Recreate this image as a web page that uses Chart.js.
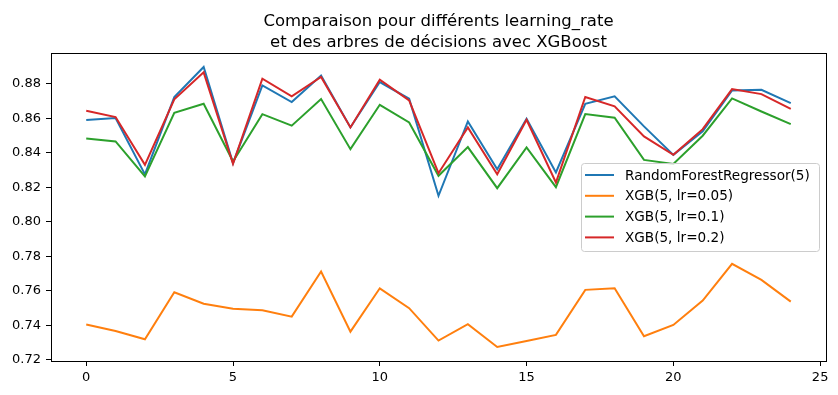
<!DOCTYPE html>
<html>
<head>
<meta charset="utf-8">
<script src="https://cdn.jsdelivr.net/npm/chart.js@4/dist/chart.umd.min.js"></script>
<style>
  body { margin: 0; background: #fff; }
  #wrap { width: 838px; height: 395px; }
</style>
</head>
<body>
<div id="wrap"><canvas id="chart" width="838" height="395"></canvas></div>
<script>
// Data
var steps = [0, 1, 2, 3, 4, 5, 6, 7, 8, 9, 10, 11, 12, 13, 14, 15, 16, 17, 18, 19, 20, 21, 22, 23, 24];
var randomForest = [0.859, 0.8601, 0.8275, 0.8723, 0.8897, 0.834, 0.879, 0.8694, 0.8848, 0.8547, 0.881, 0.8713, 0.8151, 0.8582, 0.8305, 0.8597, 0.8286, 0.8684, 0.8727, 0.8553, 0.8388, 0.8524, 0.8761, 0.8765, 0.8688];
var xgb005 = [0.7405, 0.7368, 0.732, 0.7592, 0.7526, 0.7496, 0.7488, 0.7451, 0.7712, 0.7364, 0.7615, 0.75, 0.7312, 0.7407, 0.7275, 0.731, 0.7345, 0.7606, 0.7615, 0.7337, 0.7403, 0.7544, 0.7757, 0.7664, 0.7538];
var xgb01 = [0.8483, 0.8466, 0.8263, 0.8632, 0.8684, 0.835, 0.8624, 0.8557, 0.8711, 0.8421, 0.8678, 0.8576, 0.8267, 0.8433, 0.8195, 0.8431, 0.8201, 0.8624, 0.8603, 0.8359, 0.8335, 0.8499, 0.8715, 0.8639, 0.8566];
var xgb02 = [0.8643, 0.8607, 0.833, 0.871, 0.8866, 0.8336, 0.8829, 0.8727, 0.8839, 0.8547, 0.8823, 0.8703, 0.8282, 0.8547, 0.8276, 0.8591, 0.8228, 0.8723, 0.8669, 0.8495, 0.8388, 0.8537, 0.8769, 0.874, 0.8655];
var seriesNames = ["RandomForestRegressor(5)", "XGB(5, lr=0.05)", "XGB(5, lr=0.1)", "XGB(5, lr=0.2)"];
var titleLines = ["Comparaison pour différents learning_rate", "et des arbres de décisions avec XGBoost"];
var xTicks = [0, 5, 10, 15, 20, 25];
var yTicks = [0.72, 0.74, 0.76, 0.78, 0.80, 0.82, 0.84, 0.86, 0.88];

var COLORS = ["#1f77b4", "#ff7f0e", "#2ca02c", "#d62728"];
var FONT = "'DejaVu Sans', sans-serif";

function toPoints(values) {
  return values.map(function (v, i) { return { x: steps[i], y: v }; });
}

var allSeries = [randomForest, xgb005, xgb01, xgb02];
var datasets = allSeries.map(function (values, i) {
  return {
    label: seriesNames[i],
    data: toPoints(values),
    borderColor: COLORS[i],
    backgroundColor: COLORS[i],
    borderWidth: 2,
    pointRadius: 0,
    tension: 0,
    order: 3 - i, // last series on top, like matplotlib
  };
});

// matplotlib style 5% margins
var flat = [].concat.apply([], allSeries);
var yLo = Math.min.apply(null, flat), yHi = Math.max.apply(null, flat);
var yPad = (yHi - yLo) * 0.05;
var xPad = (steps[steps.length - 1] - steps[0]) * 0.05;

// frame, title and legend drawn like matplotlib
var decorations = {
  id: "decorations",
  afterDraw: function (chart) {
    var ctx = chart.ctx;
    var a = chart.chartArea;
    ctx.save();

    ctx.strokeStyle = "#000";
    ctx.lineWidth = 1;
    ctx.strokeRect(Math.round(a.left) + 0.5, Math.round(a.top) + 0.5, Math.round(a.right - a.left), Math.round(a.bottom - a.top));

    ctx.fillStyle = "#000";
    ctx.font = "16.5px " + FONT;
    ctx.textAlign = "center";
    ctx.textBaseline = "alphabetic";
    var cx = (a.left + a.right) / 2;
    ctx.fillText(titleLines[0], cx, 26);
    ctx.fillText(titleLines[1], cx, 47);

    // legend box, center right
    var boxW = 238, boxH = 88;
    var bx = a.right - 7 - boxW;
    var by = (a.top + a.bottom) / 2 - boxH / 2;
    ctx.beginPath();
    ctx.roundRect(bx + 0.5, by + 0.5, boxW, boxH, 3);
    ctx.fillStyle = "rgba(255,255,255,0.8)";
    ctx.fill();
    ctx.strokeStyle = "#cccccc";
    ctx.stroke();

    ctx.font = "13.6px " + FONT;
    ctx.textAlign = "left";
    ctx.textBaseline = "middle";
    for (var i = 0; i < seriesNames.length; i++) {
      var ly = by + 12 + i * 20.8;
      ctx.beginPath();
      ctx.moveTo(bx + 4, ly);
      ctx.lineTo(bx + 33, ly);
      ctx.strokeStyle = COLORS[i];
      ctx.lineWidth = 2;
      ctx.stroke();
      ctx.fillStyle = "#000";
      ctx.fillText(seriesNames[i], bx + 44, ly + 1);
    }
    ctx.restore();
  },
};

var ctx = document.getElementById("chart").getContext("2d");
var chart = new Chart(ctx, {
  type: "line",
  data: { datasets: datasets },
  options: {
    responsive: false,
    animation: false,
    layout: { padding: { top: 53, right: 12, left: 0, bottom: 0 } },
    plugins: {
      legend: { display: false },
      title: { display: false },
      tooltip: { enabled: false },
    },
    scales: {
      x: {
        type: "linear",
        min: steps[0] - xPad,
        max: steps[steps.length - 1] + xPad,
        afterBuildTicks: function (scale) {
          scale.ticks = xTicks.map(function (v) { return { value: v }; });
        },
        afterFit: function (scale) { scale.height = 34; },
        grid: { drawOnChartArea: false, drawTicks: true, tickLength: 5, tickColor: "#000" },
        border: { display: true, color: "#000" },
        ticks: {
          color: "#000",
          font: { family: FONT, size: 13 },
          padding: 4,
          maxRotation: 0,
          callback: function (v) { return String(v); },
        },
      },
      y: {
        type: "linear",
        min: yLo - yPad,
        max: yHi + yPad,
        afterBuildTicks: function (scale) {
          scale.ticks = yTicks.map(function (v) { return { value: v }; });
        },
        afterFit: function (scale) { scale.width = 51; },
        grid: { drawOnChartArea: false, drawTicks: true, tickLength: 5, tickColor: "#000" },
        border: { display: true, color: "#000" },
        ticks: {
          color: "#000",
          font: { family: FONT, size: 13 },
          padding: 5,
          callback: function (v) { return Number(v).toFixed(2); },
        },
      },
    },
  },
  plugins: [decorations],
});
</script>
</body>
</html>
